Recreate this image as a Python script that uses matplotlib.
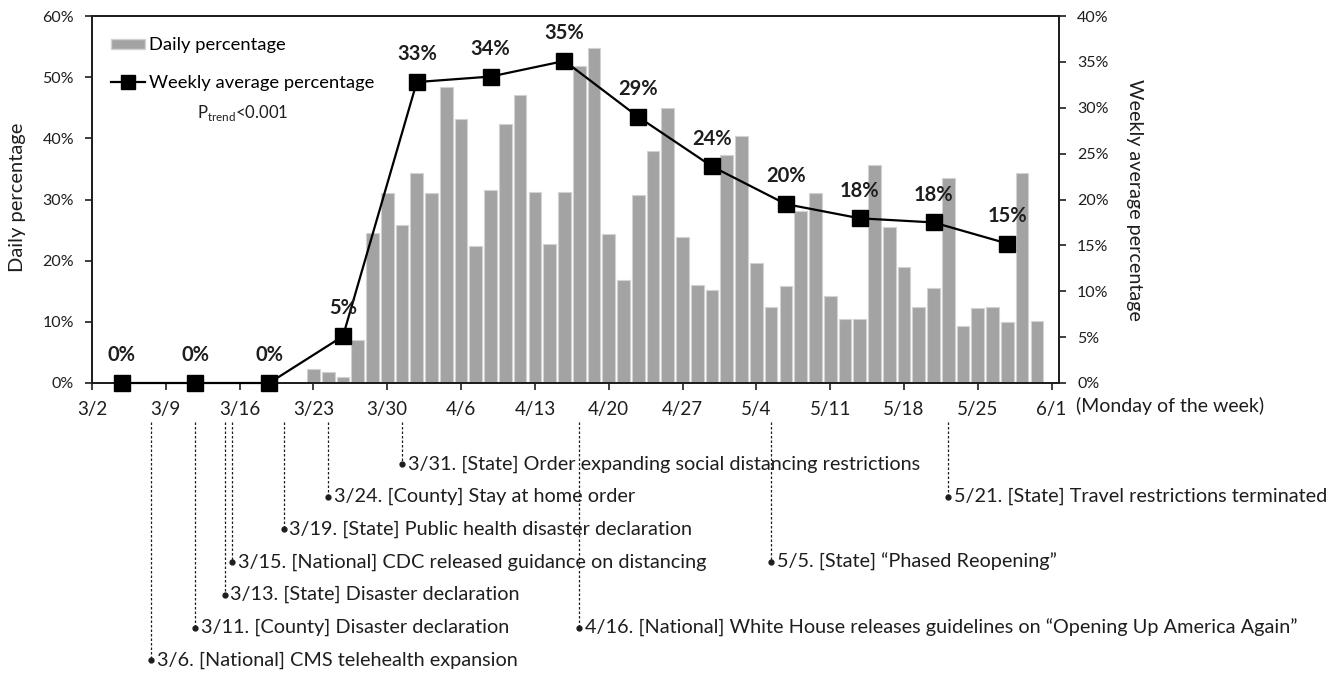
import matplotlib
matplotlib.use('Agg')
import matplotlib.pyplot as plt
import pandas as pd
from matplotlib.lines import Line2D
from matplotlib.patches import Patch
from matplotlib.ticker import PercentFormatter

plt.rcParams['font.family'] = ['Lato', 'DejaVu Sans']

W, H = 1341, 674
START = pd.Timestamp('2020-03-02')

# weekdays only, 3/2 .. 5/29
days = pd.bdate_range('2020-03-02', '2020-05-29')
daily_pct = [
    0.0, 0.0, 0.0, 0.0, 0.0,
    0.0, 0.0, 0.0, 0.0, 0.0,
    0.0, 0.0, 0.0, 0.0, 0.0,
    2.3, 1.8, 1.0, 7.0, 24.6,
    31.1, 25.9, 34.4, 31.1, 48.4,
    43.1, 22.4, 31.5, 42.3, 47.1,
    31.3, 22.7, 31.2, 51.9, 54.8,
    24.3, 16.8, 30.7, 38.0, 44.9,
    23.9, 16.0, 15.2, 37.2, 40.3,
    19.7, 12.5, 15.8, 28.2, 31.0,
    14.3, 10.4, 10.5, 35.7, 25.5,
    18.9, 12.4, 15.6, 33.5, 9.3,
    12.2, 12.5, 9.9, 34.4, 10.2,
]

week_starts = pd.date_range('2020-03-02', '2020-05-25', freq='7D')
weekly_pct = [0.0, 0.0, 0.0, 5.1, 32.8, 33.4, 35.1, 29.0, 23.6, 19.5, 17.95, 17.5, 15.2]
weekly_labels = ['0%', '0%', '0%', '5%', '33%', '34%', '35%', '29%', '24%', '20%', '18%', '18%', '15%']

monday_ticks = pd.date_range('2020-03-02', '2020-06-01', freq='7D')

# (date, text, row below the axis)
events = [
    ('2020-03-31', '3/31. [State] Order expanding social distancing restrictions', 0),
    ('2020-03-24', '3/24. [County] Stay at home order', 1),
    ('2020-03-19', '3/19. [State] Public health disaster declaration', 2),
    ('2020-03-15', '3/15. [National] CDC released guidance on distancing', 3),
    ('2020-03-13', '3/13. [State] Disaster declaration', 4),
    ('2020-03-11', '3/11. [County] Disaster declaration', 5),
    ('2020-03-06', '3/6. [National] CMS telehealth expansion', 6),
    ('2020-04-16', '4/16. [National] White House releases guidelines on \u201cOpening Up America Again\u201d', 5),
    ('2020-05-05', '5/5. [State] \u201cPhased Reopening\u201d', 3),
    ('2020-05-21', '5/21. [State] Travel restrictions terminated', 1),
]


def cat_pos(d):
    # position on the weekday-only axis; weekends sit between Fri and Mon
    d = pd.Timestamp(d)
    wk = (d - START).days // 7
    wd = d.weekday()
    return wk * 5 + (wd if wd < 5 else 4.5)


BAR = '#a3a3a3'
INK = '#1e1e1e'

fig = plt.figure(figsize=(W / 100, H / 100), dpi=100)
ax = fig.add_axes([92 / W, 1 - 383 / H, 967 / W, 367 / H])

bx = [cat_pos(d) for d in days]
ax.bar(bx, daily_pct, width=0.86, color=BAR, edgecolor='#d2d2d2', linewidth=0.8, zorder=2)
ax.set_xlim(0, 65.5)
ax.set_ylim(0, 60)
ax.set_yticks(range(0, 61, 10))
ax.yaxis.set_major_formatter(PercentFormatter(decimals=0))
ax.set_xticks([cat_pos(d) for d in monday_ticks])
ax.set_xticklabels([f'{d.month}/{d.day}' for d in monday_ticks])

ax2 = ax.twinx()
wx = [cat_pos(d) + 2 for d in week_starts]
ax2.plot(wx, weekly_pct, '-s', color='black', lw=1.6, ms=11, zorder=3, clip_on=False)
ax2.set_ylim(0, 40)
ax2.set_yticks(range(0, 41, 5))
ax2.yaxis.set_major_formatter(PercentFormatter(decimals=0))
for x, y, lbl in zip(wx, weekly_pct, weekly_labels):
    ax2.annotate(lbl, (x, y), xytext=(0, 20), textcoords='offset points',
                 ha='center', va='center', fontsize=14.5, fontweight='bold', color=INK)

for a in (ax, ax2):
    for s in a.spines.values():
        s.set_linewidth(1.3)
        s.set_color(INK)
ax.tick_params(axis='y', direction='out', length=5, width=1.2, labelsize=11.5, pad=8, colors=INK)
ax.tick_params(axis='x', direction='out', length=5, width=1.2, labelsize=13.5, pad=8, colors=INK)
ax2.tick_params(axis='y', direction='out', length=5, width=1.2, labelsize=11.5, pad=8, colors=INK)

fig.text(18 / W, 1 - 197 / H, 'Daily percentage', rotation=90, ha='center', va='center',
         fontsize=14.5, color=INK)
fig.text(1134 / W, 1 - 200 / H, 'Weekly average percentage', rotation=270, ha='center',
         va='center', fontsize=14.2, color=INK)
fig.text(1076 / W, 1 - 406 / H, '(Monday of the week)', ha='left', va='center',
         fontsize=14, color=INK)

handles = [Patch(facecolor=BAR, edgecolor='#d2d2d2'),
           Line2D([], [], color='black', marker='s', ms=10, lw=1.6)]
ax2.legend(handles, ['Daily percentage', 'Weekly average percentage'], loc='upper left',
           bbox_to_anchor=(0.012, 0.962), borderaxespad=0, frameon=False, fontsize=13.2,
           handlelength=1.85, handleheight=0.5, labelspacing=1.2, handletextpad=0.25)
ax2.text((243 - 92) / 967, (383 - 113) / 367, r'P$_\mathregular{trend}$<0.001',
         transform=ax.transAxes, ha='center', va='center', fontsize=12, color=INK)

# policy timeline below the axis
xt = ax.get_xaxis_transform()
line_top = (383 - 422) / 367
for date, text, row in events:
    x = cat_pos(date)
    y = (383 - (464 + row * 32.7)) / 367
    ax.plot([x, x], [line_top, y], transform=xt, clip_on=False, color=INK,
            lw=0.9, ls=(0, (2, 1.6)))
    ax.plot([x], [y], 'o', ms=3.5, color=INK, transform=xt, clip_on=False)
    ax.annotate(text, (x, y), xycoords=xt, xytext=(4, 0), textcoords='offset points',
                ha='left', va='center', fontsize=14.3, color=INK)

fig.savefig('out.png', dpi=100)
